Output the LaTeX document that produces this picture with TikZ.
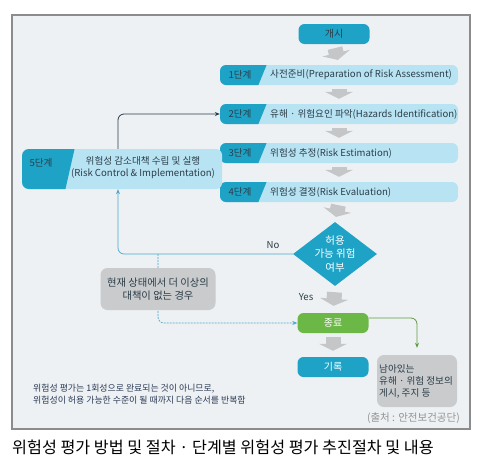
\documentclass[tikz,border=0pt]{standalone}
\usepackage{fontspec}
\setmainfont{Noto Sans CJK KR}
\usetikzlibrary{arrows.meta,shapes.geometric,calc}
\definecolor{cyanD}{HTML}{1EA3C7}
\definecolor{barL}{HTML}{B8E3F3}
\definecolor{greenC}{HTML}{6CB846}
\definecolor{grayBox}{HTML}{C9CBCD}
\definecolor{bgc}{HTML}{EEF1F3}
\definecolor{garrowc}{HTML}{C4C6C8}
\definecolor{txtD}{HTML}{2B3D48}
\definecolor{blueL}{HTML}{4BA8CC}
\definecolor{navyL}{HTML}{2A3B4C}
\definecolor{framec}{HTML}{8C8C8C}
\definecolor{noteC}{HTML}{2A3A55}
\begin{document}
\begin{tikzpicture}[x=1pt,y=-1pt,
  every node/.style={inner sep=0pt},
  tfont/.style={font=\fontsize{10}{12}\selectfont},
  pill/.style={rounded corners=6pt, minimum width=71pt, minimum height=20pt, tfont},
  barbox/.style={fill=barL, rounded corners=6pt, minimum width=238pt, minimum height=20pt},
  garrow/.style={draw=garrowc, line width=15pt, -{Triangle[width=28pt,length=7pt]}},
  navyline/.style={draw=navyL, line width=0.8pt, rounded corners=6pt, -{Stealth[length=5pt,width=4pt]}},
  blueline/.style={draw=blueL, line width=0.7pt, rounded corners=6pt, -{Stealth[length=5pt,width=4pt]}},
  greenline/.style={draw=greenC!85!black, line width=0.8pt, rounded corners=6pt, -{Stealth[length=5pt,width=4pt]}},
  graybox/.style={fill=grayBox, rounded corners=7pt},
  lbl/.style={text=txtD, font=\fontsize{9.6}{12}\selectfont}
]
\useasboundingbox (0,0) rectangle (484,469);
\fill[white] (0,0) rectangle (484,469);
\draw[framec, line width=1.2pt, fill=bgc] (12,15) rectangle (470,429);

% start
\node[pill, fill=cyanD, text=txtD] (start) at (334,34) {개시};

% step bars
\foreach \n/\y/\t in {1/75/{사전준비(Preparation of Risk Assessment)},
                      2/114/{유해 · 위험요인 파악(Hazards Identification)},
                      3/153/{위험성 추정(Risk Estimation)},
                      4/192/{위험성 결정(Risk Evaluation)}}{
  \node[barbox] (s\n) at (339,\y) {};
  \begin{scope}
    \clip[rounded corners=6pt] (220,\y-10) rectangle (458,\y+10);
    \fill[cyanD] (215,\y-11) -- (267,\y-11) -- (258,\y+11) -- (215,\y+11) -- cycle;
  \end{scope}
  \node[lbl] (l\n) at (240,\y) {\n{}단계};
  \node[lbl, anchor=west] (t\n) at (270,\y) {\t};
}

% step 5
\node[barbox, minimum width=200pt, minimum height=40pt] (s5) at (122,169) {};
\begin{scope}
  \clip[rounded corners=7pt] (22,149) rectangle (222,189);
  \fill[cyanD] (18,147) -- (75,147) -- (65,191) -- (18,191) -- cycle;
\end{scope}
\node[lbl] (l5) at (41,163) {5단계};
\node[lbl, align=center] (t5) at (143,168) {위험성 감소대책 수립 및 실행\\(Risk Control \& Implementation)};

% decision
\node[diamond, fill=cyanD, minimum width=84pt, minimum height=64pt] (dec) at (335,254) {};
\node[text=white, font=\fontsize{10.5}{13.5}\selectfont, align=center] (dect) at (335,254) {허용\\가능 위험\\여부};

% end, record
\node[pill, fill=greenC, text=white] (jong) at (333,323) {종료};
\node[pill, fill=cyanD, text=white] (gir) at (333,367) {기록};

% gray block arrows
\draw[garrow, shorten <=4pt, shorten >=5pt] (start.south) -- (s1.north);
\draw[garrow, shorten <=4pt, shorten >=5pt] (s1.south) -- (s2.north);
\draw[garrow, shorten <=4pt, shorten >=5pt] (s2.south) -- (s3.north);
\draw[garrow, shorten <=4pt, shorten >=5pt] (s3.south) -- (s4.north);
\draw[garrow, shorten <=3pt, shorten >=5pt] (s4.south) -- (dec.north);
\draw[garrow, shorten <=6pt, shorten >=7pt] (dec.south) -- (jong.north);
\draw[garrow, shorten <=4pt, shorten >=6pt] (jong.south) -- (gir.north);

% connectors
\draw[navyline] ([xshift=-4pt]s5.north) |- (s2.west);
\draw[blueline] (dec.west) -| ([xshift=-4pt]s5.south);
\coordinate (dd) at (158,254);
\draw[blueline, dash pattern=on 2pt off 1pt] (dd) |- (jong.west);
\node[lbl, anchor=base] (no) at (273,248) {No};
\node[lbl, anchor=base] (yes) at (306,300) {Yes};

% gray condition box
\node[graybox, minimum width=115pt, minimum height=42pt, lbl, align=center, font=\fontsize{10.3}{13}\selectfont] (cond) at (158,289) {현재 상태에서 더 이상의\\대책이 없는 경우};

% remaining info box
\node[graybox, minimum width=80pt, minimum height=52pt] (nami) at (417,381) {};
\node[lbl, anchor=west, align=left] (namit) at (379,381) {남아있는\\유해 · 위험 정보의\\게시, 주지 등};
\draw[greenline, shorten >=7pt] ([yshift=5pt]jong.east) -| (nami.north);

% notes
\node[anchor=west, align=left, text=noteC, font=\fontsize{8.9}{12.5}\selectfont] (note) at (33,394) {위험성 평가는 1회성으로 완료되는 것이 아니므로,\\위험성이 허용 가능한 수준이 될 때까지 다음 순서를 반복함};
\node[anchor=east, text=gray!85, font=\fontsize{10.5}{12}\selectfont] (src) at (460,418) {(출처 : 안전보건공단)};

% caption
\node[anchor=west, font=\fontsize{16.2}{19}\selectfont] (cap) at (12,447) {위험성 평가 방법 및 절차 · 단계별 위험성 평가 추진절차 및 내용};
\end{tikzpicture}
\end{document}
